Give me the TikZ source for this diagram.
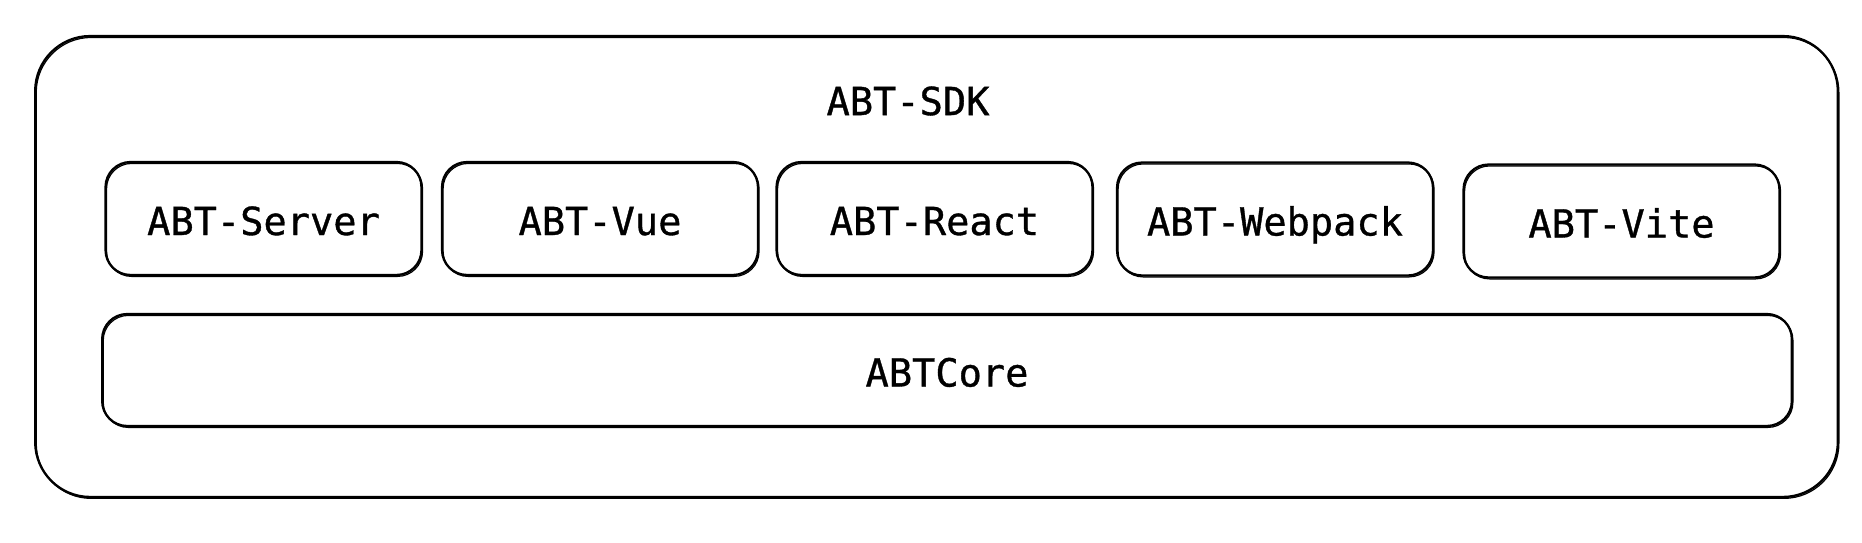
\documentclass[tikz,border=0pt]{standalone}
\usepackage{fontspec}
\newfontfamily\abtmono[FakeBold=0.9]{DejaVu Sans Mono}
\tikzset{
  sketch/.style={draw, line width=1.3pt, rounded corners=#1,
    postaction={draw, line width=0.7pt, transform canvas={shift={(0.6pt,-0.8pt)}}}},
  sketch/.default=0.5cm,
  label font/.style={font=\abtmono\fontsize{22}{26}\selectfont},
  layer/.style={sketch, label font, minimum width=6.32cm, minimum height=2.26cm,
    text height=0.66cm, text depth=0pt},
}
\begin{document}
\begin{tikzpicture}[x=0.02cm,y=-0.02cm]
\useasboundingbox (0,0) rectangle (1862,542);
% outer frame
\node[sketch=1.1cm, minimum width=36.06cm, minimum height=9.22cm] (sdk) at (936.5,266.5) {};
\node[label font] (title) at (908,101) {ABT-SDK};
% packages
\foreach \name/\txt/\cx/\cy in {server/ABT-Server/263.5/218.5, vue/ABT-Vue/600/218.5,
    react/ABT-React/934.5/218.5, webpack/ABT-Webpack/1275/219, vite/ABT-Vite/1621.5/221} {
    \node[layer] (\name) at (\cx,\cy) {\txt};
}
% core
\node[layer, minimum width=33.8cm, minimum height=2.24cm] (core) at (947,370) {ABTCore};
\end{tikzpicture}
\end{document}
